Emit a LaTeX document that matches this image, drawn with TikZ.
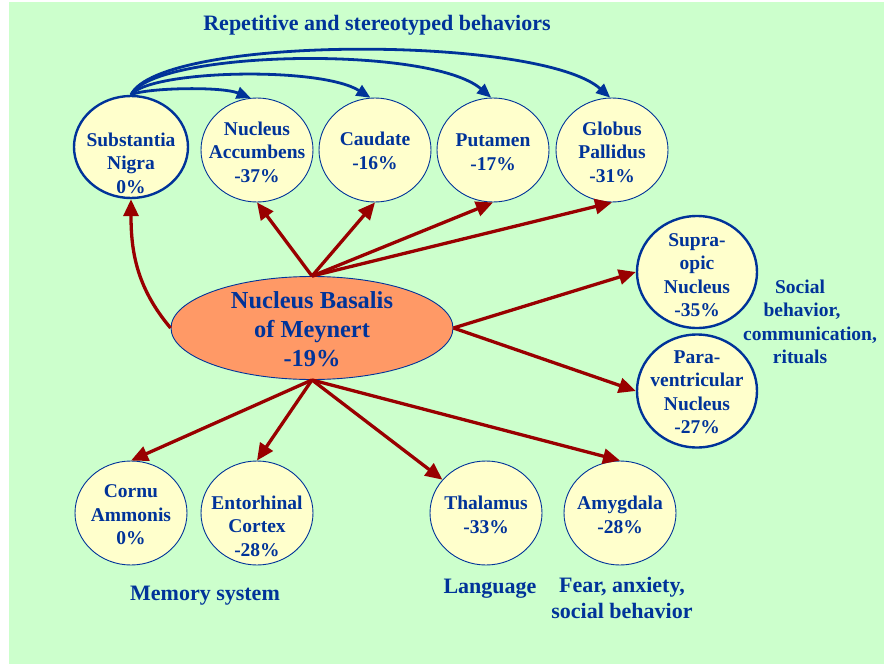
\documentclass[tikz,border=0pt]{standalone}
\usepackage{fontspec}
\setmainfont{Liberation Serif}
\usetikzlibrary{shapes.geometric,arrows.meta}
\definecolor{bg}{HTML}{CCFFCC}
\definecolor{tx}{HTML}{003399}
\definecolor{fillY}{HTML}{FFFFCC}
\definecolor{arr}{HTML}{990000}
\definecolor{nbmfill}{HTML}{FF9966}
\begin{document}
\begin{tikzpicture}[x=1pt,y=1pt,
  region/.style={ellipse, draw=tx, fill=fillY, line width=0.9pt, minimum width=112pt, minimum height=104pt, inner sep=0pt},
  thickregion/.style={region, line width=2.4pt},
  lbl/.style={text=tx, font=\fontsize{19.5}{23.5}\selectfont\bfseries, align=center, inner sep=0pt},
  biglbl/.style={text=tx, font=\fontsize{22}{26.5}\selectfont\bfseries, align=center, inner sep=0pt},
  redarrow/.style={draw=arr, line width=3.3pt, -{Triangle[length=17pt,width=15pt]}},
  bluearrow/.style={draw=tx, line width=2.8pt, -{Triangle[length=14pt,width=12pt]}},
]
\useasboundingbox (0,0) rectangle (884,-664);
\fill[bg] (9,-2) rectangle (884,-664);

% regions
\node[thickregion, minimum width=114pt, minimum height=102pt] (sn) at (131,-147) {};
\node[region] (acc) at (257,-150) {};
\node[region] (cau) at (375,-150) {};
\node[region] (put) at (493,-150) {};
\node[region] (gp) at (612,-150) {};
\node[thickregion, minimum width=120pt, minimum height=112pt] (so) at (697,-272) {};
\node[thickregion, minimum width=120pt, minimum height=113pt] (pv) at (697,-391) {};
\node[region] (ca) at (131,-513) {};
\node[region] (ec) at (257,-513) {};
\node[region] (th) at (486,-513) {};
\node[region] (am) at (620,-513) {};
\node[ellipse, draw=tx, fill=nbmfill, line width=0.9pt, minimum width=282pt, minimum height=103pt, inner sep=0pt] (nbm) at (312,-328) {};

% texts in regions
\node[lbl] (snt) at (131,-163) {Substantia\\Nigra\\0\%};
\node[lbl] (acct) at (257,-152) {Nucleus\\Accumbens\\-37\%};
\node[lbl] (caut) at (375,-151) {Caudate\\-16\%};
\node[lbl] (putt) at (493,-152) {Putamen\\-17\%};
\node[lbl] (gpt) at (612,-152) {Globus\\Pallidus\\-31\%};
\node[lbl] (sot) at (697,-275) {Supra-\\opic\\Nucleus\\-35\%};
\node[lbl] (pvt) at (697,-392) {Para-\\ventricular\\Nucleus\\-27\%};
\node[lbl] (cat) at (131,-515) {Cornu\\Ammonis\\0\%};
\node[lbl] (ect) at (257,-526) {Entorhinal\\Cortex\\-28\%};
\node[lbl] (tht) at (486,-515) {Thalamus\\-33\%};
\node[lbl] (amt) at (620,-515) {Amygdala\\-28\%};
\node[text=tx, font=\fontsize{24.4}{29}\selectfont\bfseries, align=center, inner sep=0pt] (nbmt) at (312,-329) {Nucleus Basalis\\of Meynert\\-19\%};

% free labels
\node[biglbl] (title) at (377,-25) {Repetitive and stereotyped behaviors};
\node[biglbl] (mem) at (205,-596) {Memory system};
\node[biglbl] (lang) at (490,-589) {Language};
\node[biglbl] (fear) at (622,-598) {Fear, anxiety,\\social behavior};
\node[lbl] (soc) at (800,-322) {Social\\\hspace*{4pt}behavior,\\\hspace*{20pt}communication,\\rituals};

% blue arcs
\draw[bluearrow] (sn.north) .. controls (145,-88) and (220,-86) .. (acc.97);
\draw[bluearrow] (sn.north) .. controls (150,-70) and (320,-66) .. (cau.95);
\draw[bluearrow] (sn.north) .. controls (155,-50) and (430,-45) .. (put.92);
\draw[bluearrow] (sn.north) .. controls (160,-35) and (540,-35) .. (gp.92);

% red arrows
\draw[redarrow] (nbm.west) to[out=130,in=-90] (sn.south);
\draw[redarrow] (nbm.north) -- (acc.south);
\draw[redarrow] (nbm.north) -- (cau.south);
\draw[redarrow] (nbm.north) -- (put.south);
\draw[redarrow] (nbm.north) -- (gp.south);
\draw[redarrow] (nbm.east) -- (so.west);
\draw[redarrow] (nbm.east) -- (pv.west);
\draw[redarrow] (nbm.south) -- (ca.north);
\draw[redarrow] (nbm.south) -- (ec.north);
\draw[redarrow] (nbm.south) -- (th);
\draw[redarrow] (nbm.south) -- (am.north);
\end{tikzpicture}
\end{document}
